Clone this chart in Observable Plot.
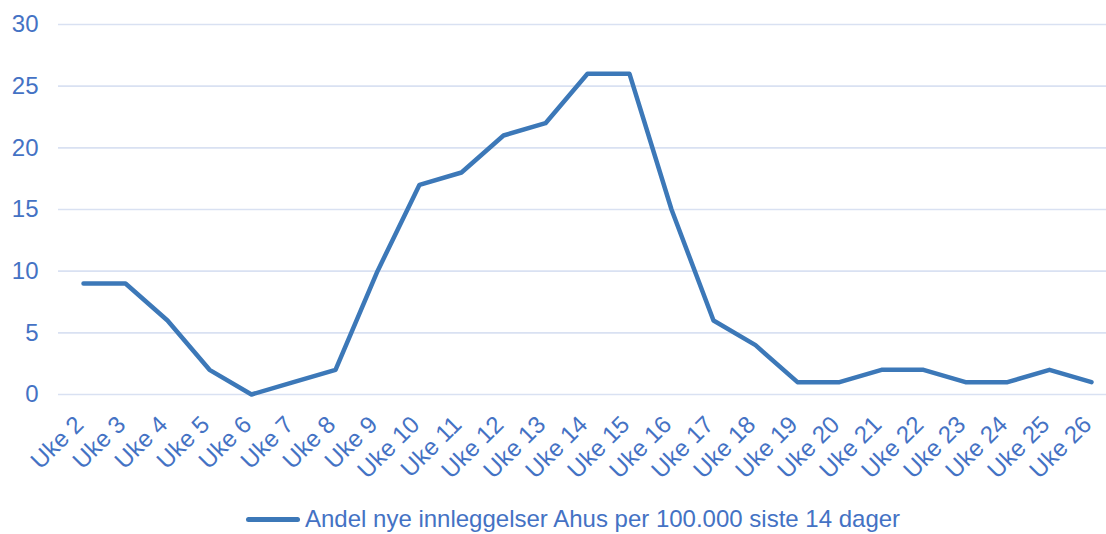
<!DOCTYPE html>
<html>
<head>
<meta charset="utf-8">
<script src="https://cdn.jsdelivr.net/npm/d3@7"></script>
<script src="https://cdn.jsdelivr.net/npm/@observablehq/plot@0.6"></script>
<style>
  html, body { margin: 0; padding: 0; background: #fff; }
  body { width: 1106px; height: 534px; overflow: hidden; font-family: "Liberation Sans", Arial, sans-serif; }
  #legend { position: absolute; left: 246px; top: 505px; display: flex; align-items: center; color: #4472C4; font-size: 24px; white-space: nowrap; }
  #legend .sw { width: 54px; height: 5px; border-radius: 3px; background: #3C78B8; margin-right: 5px; }
</style>
</head>
<body>
<div id="chart"></div>
<div id="legend"><span class="sw"></span><span>Andel nye innleggelser Ahus per 100.000 siste 14 dager</span></div>
<script>
const weeks = ["Uke 2","Uke 3","Uke 4","Uke 5","Uke 6","Uke 7","Uke 8","Uke 9","Uke 10","Uke 11","Uke 12","Uke 13","Uke 14","Uke 15","Uke 16","Uke 17","Uke 18","Uke 19","Uke 20","Uke 21","Uke 22","Uke 23","Uke 24","Uke 25","Uke 26"];
const values = [9, 9, 6, 2, 0, 1, 2, 10, 17, 18, 21, 22, 26, 26, 15, 6, 4, 1, 1, 2, 2, 1, 1, 2, 1];
const yTicks = [0, 5, 10, 15, 20, 25, 30];
const seriesName = "Andel nye innleggelser Ahus per 100.000 siste 14 dager";

const data = weeks.map((w, i) => ({week: w, value: values[i]}));

const chart = Plot.plot({
  width: 1106,
  height: 490,
  marginTop: 24,
  marginBottom: 96,
  marginLeft: 58,
  marginRight: 0,
  style: {fontFamily: "Liberation Sans, Arial, sans-serif", fontSize: "24px", color: "#4472C4", background: "#fff", overflow: "visible"},
  x: {type: "point", domain: weeks, range: [79, 1094], padding: 0},
  y: {domain: [0, 30]},
  marks: [
    Plot.gridY(yTicks, {stroke: "#D9E1F2", strokeOpacity: 1, strokeWidth: 1.6}),
    Plot.axisY(yTicks, {tickSize: 0, tickPadding: 20, label: null, fill: "#4472C4", fontSize: 24}),
    Plot.axisX({tickSize: 0, tickRotate: -45, tickPadding: 6, dx: -4, dy: 20, label: null, fill: "#4472C4", fontSize: 24}),
    Plot.line(data, {x: "week", y: "value", stroke: "#3C78B8", strokeWidth: 4.5, strokeLinejoin: "round", strokeLinecap: "round"})
  ]
});
document.getElementById("chart").appendChild(chart);
</script>
</body>
</html>
